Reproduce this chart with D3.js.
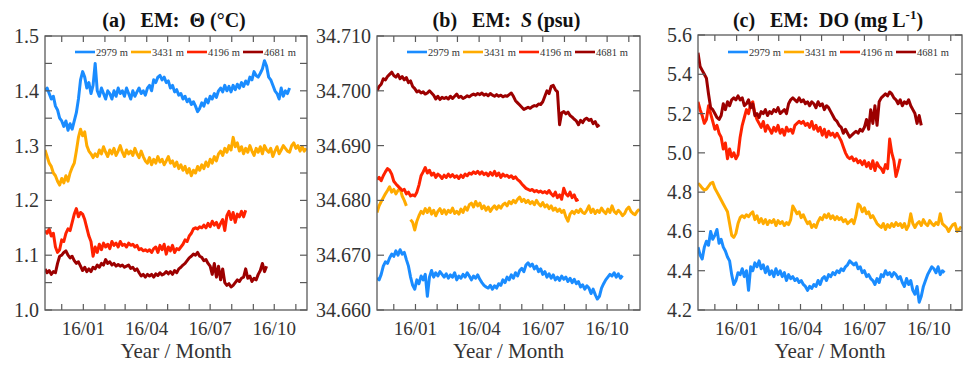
<!DOCTYPE html>
<html><head><meta charset="utf-8">
<script src="https://cdn.jsdelivr.net/npm/d3@7"></script>
<style>
body{margin:0;background:#fff;}
svg{display:block;font-family:"Liberation Serif","Times New Roman",serif;}
</style>
</head><body>
<svg id="chart" width="965" height="366"></svg>
<script>
// ---------------- DATA ----------------
const depths = ["2979 m", "3431 m", "4196 m", "4681 m"];
const seriesColors = ["#1a8cff", "#ffab00", "#ff2200", "#9c0000"];
const startDate = "2015-11-07";   // first sample
const stepDays = 3;               // sampling interval of the arrays below
const xDomain = ["2015-11-07", "2016-11-17"];
const xTickLabels = ["16/01", "16/04", "16/07", "16/10"];

// (a) Potential temperature
const thetaYTicks = [1.0, 1.05, 1.1, 1.15, 1.2, 1.25, 1.3, 1.35, 1.4, 1.45, 1.5];
const thetaYLabels = ["1.0", "1.1", "1.2", "1.3", "1.4", "1.5"];
const theta2979 = [1.400,1.405,1.395,1.385,1.390,1.372,1.365,1.350,1.345,1.335,1.345,1.328,1.340,1.330,1.345,1.360,1.385,1.420,1.435,1.425,1.405,1.415,1.395,1.410,1.450,1.400,1.390,1.405,1.395,1.385,1.400,1.395,1.385,1.400,1.390,1.405,1.395,1.400,1.390,1.405,1.395,1.385,1.400,1.390,1.398,1.405,1.395,1.400,1.392,1.405,1.410,1.400,1.420,1.415,1.425,1.428,1.420,1.425,1.415,1.418,1.405,1.410,1.398,1.402,1.392,1.395,1.385,1.390,1.380,1.385,1.375,1.380,1.372,1.362,1.368,1.378,1.372,1.385,1.378,1.390,1.385,1.395,1.388,1.400,1.405,1.398,1.410,1.400,1.408,1.398,1.410,1.402,1.412,1.405,1.415,1.408,1.418,1.412,1.425,1.420,1.435,1.428,1.425,1.432,1.440,1.455,1.445,1.425,1.420,1.410,1.400,1.395,1.385,1.405,1.390,1.400,1.395,1.405];
const theta3431 = [1.292,1.280,1.268,1.262,1.250,1.245,1.235,1.228,1.240,1.232,1.245,1.235,1.250,1.260,1.268,1.290,1.315,1.330,1.318,1.325,1.300,1.290,1.285,1.278,1.285,1.280,1.292,1.285,1.298,1.288,1.280,1.292,1.285,1.295,1.282,1.290,1.300,1.288,1.280,1.292,1.285,1.290,1.282,1.295,1.285,1.278,1.290,1.280,1.272,1.268,1.278,1.265,1.275,1.268,1.280,1.270,1.275,1.265,1.272,1.280,1.268,1.272,1.262,1.270,1.258,1.265,1.255,1.262,1.250,1.258,1.245,1.255,1.250,1.262,1.255,1.265,1.258,1.270,1.262,1.275,1.268,1.280,1.272,1.285,1.290,1.282,1.295,1.288,1.300,1.292,1.315,1.298,1.305,1.290,1.298,1.285,1.295,1.288,1.300,1.290,1.282,1.295,1.288,1.298,1.285,1.300,1.292,1.288,1.295,1.280,1.290,1.298,1.285,1.292,1.300,1.295,1.290,1.288,1.300,1.305,1.295,1.300,1.290,1.298,1.290,1.295];
const theta4196 = [1.145,1.140,1.148,1.135,1.140,1.115,1.105,1.110,1.128,1.125,1.140,1.148,1.145,1.160,1.175,1.185,1.170,1.178,1.175,1.165,1.150,1.135,1.125,1.098,1.115,1.105,1.120,1.110,1.122,1.115,1.120,1.112,1.125,1.118,1.122,1.115,1.125,1.118,1.120,1.115,1.122,1.118,1.120,1.115,1.118,1.110,1.112,1.108,1.110,1.107,1.110,1.105,1.112,1.115,1.105,1.118,1.110,1.120,1.102,1.115,1.108,1.118,1.105,1.112,1.110,1.115,1.120,1.128,1.125,1.135,1.140,1.148,1.150,1.148,1.152,1.150,1.155,1.150,1.158,1.152,1.162,1.155,1.160,1.150,1.158,1.165,1.145,1.172,1.180,1.165,1.178,1.160,1.175,1.170,1.180,1.170,1.182];
const theta4681 = [1.075,1.068,1.072,1.065,1.070,1.068,1.085,1.098,1.100,1.105,1.108,1.100,1.095,1.098,1.090,1.085,1.088,1.080,1.072,1.078,1.070,1.075,1.070,1.078,1.075,1.082,1.078,1.085,1.082,1.092,1.085,1.088,1.082,1.085,1.080,1.083,1.080,1.082,1.078,1.080,1.082,1.076,1.078,1.072,1.075,1.068,1.062,1.065,1.060,1.065,1.062,1.065,1.060,1.066,1.063,1.068,1.064,1.066,1.070,1.066,1.070,1.065,1.072,1.068,1.075,1.078,1.082,1.085,1.090,1.095,1.098,1.102,1.100,1.105,1.098,1.096,1.090,1.092,1.085,1.080,1.065,1.085,1.060,1.080,1.055,1.075,1.050,1.045,1.048,1.042,1.045,1.050,1.055,1.052,1.058,1.060,1.075,1.058,1.062,1.052,1.058,1.055,1.065,1.072,1.085,1.070,1.080];

// (b) Salinity
const salYTicks = [34.66, 34.67, 34.68, 34.69, 34.70, 34.71];
const salYLabels = ["34.660", "34.670", "34.680", "34.690", "34.700", "34.710"];
const sal2979 = [34.6658,34.6655,34.6665,34.6680,34.6688,34.6685,34.6695,34.6702,34.6698,34.6708,34.6700,34.6710,34.6702,34.6705,34.6692,34.6680,34.6660,34.6645,34.6638,34.6655,34.6648,34.6662,34.6655,34.6665,34.6625,34.6660,34.6672,34.6660,34.6668,34.6662,34.6670,34.6665,34.6660,34.6666,34.6658,34.6664,34.6660,34.6668,34.6655,34.6662,34.6658,34.6665,34.6660,34.6668,34.6662,34.6655,34.6662,34.6658,34.6664,34.6656,34.6650,34.6645,34.6642,34.6640,34.6645,34.6638,34.6644,34.6640,34.6648,34.6645,34.6655,34.6650,34.6660,34.6655,34.6664,34.6658,34.6668,34.6662,34.6672,34.6676,34.6670,34.6682,34.6686,34.6680,34.6684,34.6675,34.6680,34.6670,34.6675,34.6665,34.6670,34.6660,34.6666,34.6658,34.6664,34.6655,34.6660,34.6654,34.6662,34.6656,34.6660,34.6652,34.6658,34.6650,34.6656,34.6648,34.6652,34.6642,34.6646,34.6638,34.6644,34.6640,34.6630,34.6638,34.6628,34.6620,34.6625,34.6640,34.6648,34.6655,34.6660,34.6665,34.6662,34.6668,34.6660,34.6666,34.6658,34.6663];
const sal3431 = [34.6778,34.6790,34.6798,34.6805,34.6812,34.6818,34.6825,34.6815,34.6820,34.6812,34.6818,34.6822,34.6808,34.6800,34.6790,null,34.6765,34.6760,34.6746,34.6762,34.6772,34.6780,34.6776,34.6785,34.6778,34.6786,34.6775,34.6782,34.6772,34.6780,34.6785,34.6776,34.6783,34.6775,34.6782,34.6778,34.6786,34.6776,34.6780,34.6775,34.6784,34.6778,34.6788,34.6782,34.6792,34.6795,34.6788,34.6798,34.6790,34.6795,34.6785,34.6790,34.6782,34.6788,34.6780,34.6786,34.6790,34.6784,34.6790,34.6786,34.6792,34.6795,34.6790,34.6798,34.6794,34.6800,34.6796,34.6802,34.6806,34.6798,34.6802,34.6796,34.6800,34.6794,34.6798,34.6792,34.6800,34.6794,34.6790,34.6796,34.6788,34.6792,34.6785,34.6790,34.6782,34.6786,34.6780,34.6784,34.6778,34.6782,34.6770,34.6762,34.6775,34.6780,34.6776,34.6782,34.6778,34.6784,34.6778,34.6776,34.6782,34.6790,34.6778,34.6784,34.6776,34.6782,34.6778,34.6786,34.6780,34.6776,34.6784,34.6778,34.6790,34.6780,34.6776,34.6782,34.6778,34.6772,34.6776,34.6784,34.6788,34.6780,34.6776,34.6774,34.6780,34.6784];
const sal4196 = [34.6838,34.6842,34.6836,34.6845,34.6852,34.6858,34.6855,34.6848,34.6835,34.6830,34.6826,34.6822,34.6818,34.6820,34.6812,34.6815,34.6808,34.6810,34.6808,34.6815,34.6828,34.6845,34.6852,34.6860,34.6850,34.6855,34.6846,34.6850,34.6842,34.6848,34.6845,34.6840,34.6846,34.6842,34.6848,34.6843,34.6847,34.6842,34.6845,34.6840,34.6846,34.6842,34.6848,34.6845,34.6850,34.6848,34.6852,34.6849,34.6853,34.6848,34.6852,34.6847,34.6850,34.6845,34.6851,34.6846,34.6853,34.6845,34.6850,34.6842,34.6848,34.6844,34.6846,34.6842,34.6845,34.6840,34.6843,34.6838,34.6835,34.6830,34.6826,34.6822,34.6820,34.6818,34.6820,34.6816,34.6818,34.6815,34.6817,34.6814,34.6816,34.6813,34.6818,34.6812,34.6808,34.6815,34.6805,34.6810,34.6802,34.6822,34.6812,34.6808,34.6815,34.6805,34.6810,34.6800,34.6802];
const sal4681 = [34.7000,34.7008,34.7012,34.7022,34.7020,34.7026,34.7030,34.7034,34.7028,34.7025,34.7030,34.7022,34.7026,34.7020,34.7024,34.7015,34.7018,34.7008,34.7004,34.6998,34.7000,34.6996,34.6998,34.6994,34.6996,34.7000,34.6996,34.6992,34.6985,34.6990,34.6984,34.6988,34.6986,34.6988,34.6985,34.6990,34.6986,34.6990,34.6994,34.6988,34.6990,34.6986,34.6988,34.6991,34.6989,34.6992,34.6994,34.6992,34.6995,34.6993,34.6996,34.6992,34.6994,34.6991,34.6995,34.6992,34.6990,34.6993,34.6990,34.6992,34.6989,34.6991,34.6990,34.6993,34.6996,34.6990,34.6982,34.6978,34.6974,34.6970,34.6966,34.6968,34.6970,34.6968,34.6971,34.6973,34.6972,34.6976,34.6975,34.6980,34.6990,34.7000,34.6995,34.7008,34.7010,34.7002,34.6998,34.6938,34.6960,34.6962,34.6958,34.6961,34.6955,34.6952,34.6948,34.6945,34.6938,34.6946,34.6942,34.6948,34.6950,34.6946,34.6948,34.6940,34.6944,34.6935,34.6938];

// (c) Dissolved oxygen
const doYTicks = [4.2, 4.4, 4.6, 4.8, 5.0, 5.2, 5.4, 5.6];
const doYLabels = ["4.2", "4.4", "4.6", "4.8", "5.0", "5.2", "5.4", "5.6"];
const do2979 = [4.52,4.48,4.46,4.52,4.55,4.53,4.60,4.56,4.58,4.61,4.54,4.56,4.52,4.50,4.47,4.45,4.38,4.33,4.35,4.39,4.38,4.41,4.37,4.40,4.30,4.42,4.40,4.44,4.42,4.45,4.41,4.43,4.39,4.42,4.38,4.40,4.37,4.41,4.38,4.40,4.37,4.39,4.35,4.38,4.36,4.37,4.35,4.36,4.34,4.35,4.33,4.32,4.30,4.32,4.31,4.33,4.32,4.35,4.33,4.36,4.37,4.35,4.38,4.37,4.39,4.38,4.40,4.39,4.41,4.40,4.42,4.43,4.45,4.44,4.43,4.44,4.41,4.42,4.39,4.40,4.37,4.38,4.36,4.35,4.33,4.36,4.34,4.38,4.37,4.40,4.38,4.39,4.37,4.39,4.38,4.36,4.37,4.34,4.32,4.36,4.33,4.35,4.30,4.28,4.32,4.24,4.27,4.32,4.35,4.38,4.40,4.42,4.41,4.39,4.42,4.38,4.40,4.39];
const do3431 = [4.845,4.835,4.82,4.81,4.815,4.83,4.845,4.85,4.82,4.80,4.78,4.76,4.74,4.72,4.70,4.64,4.58,4.57,4.59,4.64,4.67,4.68,4.67,4.685,4.675,4.69,4.70,4.66,4.68,4.645,4.665,4.64,4.66,4.635,4.655,4.645,4.66,4.63,4.655,4.64,4.65,4.63,4.645,4.635,4.66,4.73,4.71,4.69,4.70,4.67,4.685,4.66,4.64,4.65,4.62,4.635,4.62,4.65,4.67,4.66,4.685,4.67,4.69,4.665,4.68,4.66,4.675,4.66,4.67,4.65,4.66,4.64,4.65,4.66,4.64,4.68,4.74,4.73,4.70,4.72,4.69,4.70,4.67,4.68,4.66,4.64,4.63,4.62,4.64,4.61,4.635,4.62,4.64,4.625,4.645,4.63,4.64,4.62,4.64,4.61,4.63,4.69,4.64,4.62,4.64,4.65,4.63,4.66,4.64,4.63,4.655,4.64,4.63,4.645,4.635,4.69,4.64,4.63,4.62,4.60,4.62,4.635,4.64,4.60,4.61,4.625];
const do4196 = [5.26,5.22,5.19,5.15,5.17,5.24,5.20,5.16,5.12,5.14,5.10,5.08,5.02,5.05,4.97,5.02,4.98,5.00,4.97,4.99,5.08,5.14,5.18,5.22,5.20,5.25,5.26,5.20,5.17,5.15,5.13,5.16,5.11,5.14,5.12,5.10,5.13,5.11,5.14,5.10,5.12,5.09,5.13,5.11,5.12,5.10,5.14,5.15,5.16,5.15,5.16,5.14,5.15,5.13,5.16,5.12,5.14,5.11,5.13,5.09,5.12,5.08,5.11,5.09,5.10,5.08,5.10,5.08,5.06,5.03,5.00,4.98,4.97,4.98,4.96,4.97,4.95,4.96,4.94,4.96,4.93,4.95,4.92,4.96,4.91,4.95,4.93,4.92,4.90,4.94,4.92,5.07,5.00,4.96,4.88,4.92,4.97];
const do4681 = [5.51,5.44,5.42,5.40,5.38,5.30,5.23,5.22,5.20,5.18,5.17,5.19,5.25,5.22,5.26,5.24,5.27,5.28,5.27,5.29,5.27,5.28,5.24,5.25,5.27,5.23,5.25,5.19,5.20,5.18,5.21,5.20,5.22,5.19,5.21,5.20,5.22,5.21,5.23,5.20,5.21,5.22,5.20,5.25,5.27,5.28,5.27,5.26,5.28,5.26,5.27,5.25,5.26,5.24,5.26,5.25,5.23,5.26,5.24,5.25,5.22,5.24,5.23,5.21,5.19,5.17,5.16,5.14,5.13,5.10,5.12,5.10,5.08,5.09,5.10,5.11,5.10,5.12,5.11,5.13,5.17,5.12,5.22,5.15,5.24,5.14,5.26,5.28,5.29,5.30,5.29,5.31,5.30,5.28,5.27,5.25,5.27,5.24,5.26,5.25,5.27,5.24,5.22,5.20,5.15,5.19,5.14];

// ---------------- DRAWING ----------------
const svg = d3.select("#chart");
const parse = d3.timeParse("%Y-%m-%d");
const t0 = parse(startDate);
const fmtMonth = d3.timeFormat("%y/%m");

const panels = [
  {id: "a", box: [45, 307, 36, 310], yDomain: [1.0, 1.5], yTicks: thetaYTicks, yLabels: thetaYLabels,
   series: [theta2979, theta3431, theta4196, theta4681], title: "theta"},
  {id: "b", box: [377, 640, 36, 310], yDomain: [34.66, 34.71], yTicks: salYTicks, yLabels: salYLabels,
   series: [sal2979, sal3431, sal4196, sal4681], title: "sal"},
  {id: "c", box: [698, 962, 35, 310], yDomain: [4.2, 5.6], yTicks: doYTicks, yLabels: doYLabels,
   series: [do2979, do3431, do4196, do4681], title: "do"}
];

const axisColor = "#5a5a5a";
const labelColor = "#333";

panels.forEach(p => {
  const [L, R, T, B] = p.box;
  const x = d3.scaleTime().domain(xDomain.map(parse)).range([L, R]);
  const y = d3.scaleLinear().domain(p.yDomain).range([B, T]);
  const g = svg.append("g");

  const clipId = "clip-" + p.id;
  svg.append("clipPath").attr("id", clipId).append("rect")
    .attr("x", L).attr("y", T).attr("width", R - L).attr("height", B - T);

  const line = d3.line()
    .defined(d => d.v !== null)
    .x(d => x(d.t)).y(d => y(d.v));
  const lineG = g.append("g").attr("clip-path", `url(#${clipId})`);
  p.series.forEach((vals, k) => {
    const data = vals.map((v, i) => ({t: d3.timeDay.offset(t0, i * stepDays), v}));
    lineG.append("path").datum(data)
      .attr("fill", "none").attr("stroke", seriesColors[k])
      .attr("stroke-width", 3).attr("stroke-linejoin", "round")
      .attr("d", line);
  });

  g.append("rect").attr("x", L).attr("y", T).attr("width", R - L).attr("height", B - T)
    .attr("fill", "none").attr("stroke", axisColor).attr("stroke-width", 1.3);

  const months = d3.timeMonth.range(x.domain()[0], x.domain()[1]);
  months.forEach(m => {
    const xx = x(m);
    g.append("line").attr("x1", xx).attr("x2", xx).attr("y1", B).attr("y2", B - 6)
      .attr("stroke", axisColor).attr("stroke-width", 1.2);
    g.append("line").attr("x1", xx).attr("x2", xx).attr("y1", T).attr("y2", T + 6)
      .attr("stroke", axisColor).attr("stroke-width", 1.2);
    const lab = fmtMonth(m);
    if (xTickLabels.includes(lab)) {
      g.append("text").attr("x", xx).attr("y", B + 25).attr("text-anchor", "middle")
        .attr("font-size", 19).attr("fill", labelColor).text(lab);
    }
  });

  p.yTicks.forEach(v => {
    const yy = y(v);
    g.append("line").attr("x1", L).attr("x2", L + 7).attr("y1", yy).attr("y2", yy)
      .attr("stroke", axisColor).attr("stroke-width", 1.2);
    g.append("line").attr("x1", R).attr("x2", R - 7).attr("y1", yy).attr("y2", yy)
      .attr("stroke", axisColor).attr("stroke-width", 1.2);
  });
  p.yLabels.forEach(s => {
    g.append("text").attr("x", L - 6).attr("y", y(+s)).attr("dy", "0.35em")
      .attr("text-anchor", "end").attr("font-size", 20).attr("fill", labelColor).text(s);
  });

  g.append("text").attr("x", (L + R) / 2).attr("y", B + 48).attr("text-anchor", "middle")
    .attr("font-size", 21).attr("fill", labelColor).text("Year / Month");

  const tt = g.append("text").attr("x", (L + R) / 2 - 2).attr("y", 27).attr("text-anchor", "middle")
    .attr("font-size", 20).attr("font-weight", "bold").attr("fill", "#111")
    .style("white-space", "pre");
  if (p.title === "theta") {
    tt.text("(a)   EM:  \u0398 (\u00B0C)");
  } else if (p.title === "sal") {
    tt.append("tspan").text("(b)   EM:  ");
    tt.append("tspan").attr("font-style", "italic").text("S");
    tt.append("tspan").text(" (psu)");
  } else {
    tt.append("tspan").text("(c)   EM:  DO (mg L");
    tt.append("tspan").attr("font-size", 13).attr("dy", -8).text("-1");
    tt.append("tspan").attr("dy", 8).text(")");
  }

  depths.forEach((d, k) => {
    const lx = L + 30 + k * 56;
    const ly = 52;
    g.append("line").attr("x1", lx).attr("x2", lx + 20).attr("y1", ly).attr("y2", ly)
      .attr("stroke", seriesColors[k]).attr("stroke-width", 2.6);
    g.append("text").attr("x", lx + 21).attr("y", ly + 3.5).attr("font-size", 10.5)
      .attr("fill", labelColor).text(d);
  });
});
</script>
</body></html>
